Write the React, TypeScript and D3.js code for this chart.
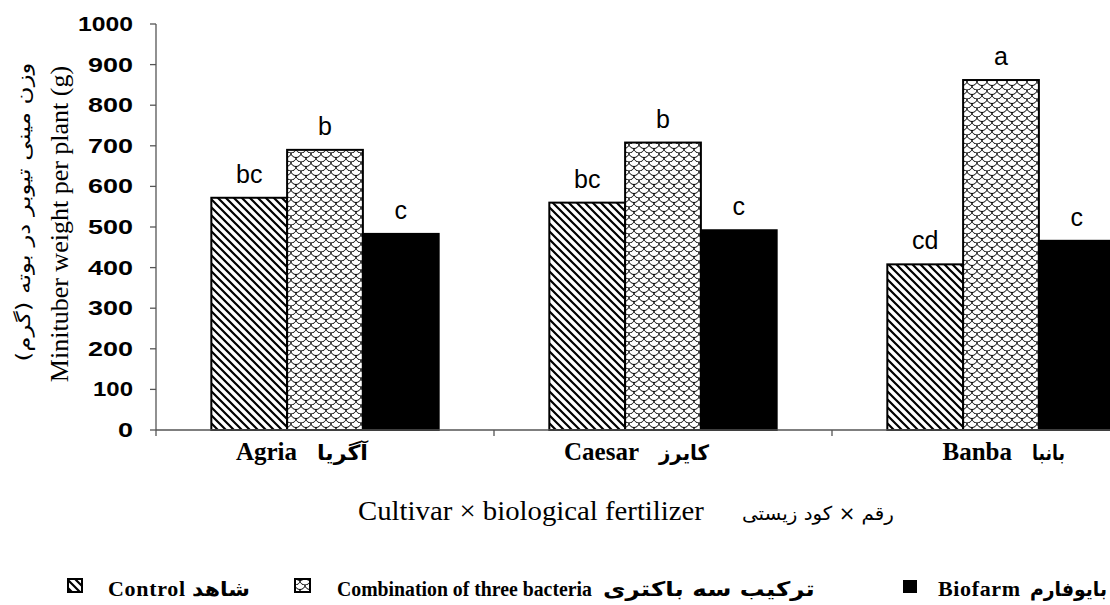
import React, { useLayoutEffect, useRef, useState } from 'react'
import * as d3 from 'd3'

// cultivars on the x axis (latin name, persian name)
const cultivars = ['Agria', 'Caesar', 'Banba']
const cultivarsFa = ['آگریا', 'کایرز', 'بانبا']
// minituber weight per plant (g), one array per treatment
const controlValues = [572, 560, 408]
const bacteriaValues = [690, 708, 862]
const biofarmValues = [483, 492, 466]
// mean comparison letters
const controlLetters = ['bc', 'bc', 'cd']
const bacteriaLetters = ['b', 'b', 'a']
const biofarmLetters = ['c', 'c', 'c']
const yTicks = [0, 100, 200, 300, 400, 500, 600, 700, 800, 900, 1000]

const series = [
  { key: 'control', values: controlValues, letters: controlLetters, fill: 'url(#hatch)' },
  { key: 'bacteria', values: bacteriaValues, letters: bacteriaLetters, fill: 'url(#scales)' },
  { key: 'biofarm', values: biofarmValues, letters: biofarmLetters, fill: '#000' },
]

// text squeezed / stretched horizontally to a given width (keeps arabic letters joined)
function FitText({ x, y, width, rotate = 0, anchor = 'start', children, ...rest }: any) {
  const ref = useRef<SVGTextElement>(null)
  const [sx, setSx] = useState(1)
  useLayoutEffect(() => {
    if (!ref.current) return
    const w = ref.current.getComputedTextLength()
    if (w > 0) setSx(width / w)
  }, [width, children])
  return (
    <g transform={`translate(${x},${y}) rotate(${rotate})`}>
      <text ref={ref} transform={`scale(${sx},1)`} textAnchor={anchor} {...rest}>{children}</text>
    </g>
  )
}

export default function App() {
  const width = 1110
  const height = 605
  const left = 156
  const bottom = 430

  const x = d3.scaleBand<string>().domain(cultivars).range([left, left + 3 * 338])
  const inner = d3.scaleBand<string>()
    .domain(series.map(s => s.key))
    .range([0, x.bandwidth()])
    .paddingOuter(0.73)
  const y = d3.scaleLinear().domain([0, 1000]).range([bottom, 24])

  const serif = "'Liberation Serif', 'DejaVu Serif', serif"
  const sans = "'Liberation Sans', Arial, sans-serif"
  const arabic = "'DejaVu Sans', sans-serif"

  // where the latin / persian halves of each category label meet, relative to band centre
  const labelSplit = [-18, -14, 21]
  const faWidth = [51, 50, 33]

  // tick label widths: reference digits look stretched
  const tickWidth = (t: number) => {
    const s = String(t)
    return s.length * 15 - (s[0] === '1' ? 5 : 0)
  }

  return (
    <svg width={width} height={height} style={{ position: 'absolute', left: 0, top: 0, background: '#fff' }}>
      <defs>
        <pattern id="hatch" patternUnits="userSpaceOnUse" width={8} height={8}>
          <rect width={8} height={8} fill="#fff" />
          <path d="M-2,-2 L10,10 M-2,6 L2,10 M6,-2 L10,2" stroke="#000" strokeWidth={2.2} />
        </pattern>
        <pattern id="scales" patternUnits="userSpaceOnUse" width={10} height={9}>
          <rect width={10} height={9} fill="#fff" />
          <path
            d="M-5,0 A5,4.5 0 0 0 5,0 M5,0 A5,4.5 0 0 0 15,0 M0,4.5 A5,4.5 0 0 0 10,4.5 M-5,9 A5,4.5 0 0 0 5,9 M5,9 A5,4.5 0 0 0 15,9"
            fill="none" stroke="#000" strokeWidth={1} />
        </pattern>
      </defs>

      {/* bars */}
      {cultivars.map((c, i) => (
        <g key={c} transform={`translate(${x(c)},0)`}>
          {series.map(s => (
            <g key={s.key}>
              <rect
                x={inner(s.key)}
                y={y(s.values[i])}
                width={inner.bandwidth()}
                height={bottom - y(s.values[i])}
                fill={s.fill}
                stroke="#000"
                strokeWidth={2}
              />
              <text
                x={inner(s.key)! + inner.bandwidth() / 2}
                y={y(s.values[i]) - 15}
                textAnchor="middle"
                fontFamily={sans}
                fontSize={25}
              >{s.letters[i]}</text>
            </g>
          ))}
        </g>
      ))}

      {/* y axis */}
      <line x1={left} x2={left} y1={bottom + 6} y2={y(1000)} stroke="#555" strokeWidth={1.3} />
      {yTicks.map(t => (
        <g key={t}>
          <line x1={left - 6} x2={left} y1={y(t)} y2={y(t)} stroke="#555" strokeWidth={1.3} />
          <FitText x={133} y={y(t) + 7} width={tickWidth(t)} anchor="end" fontFamily={sans}
            fontWeight="bold" fontSize={20}>{t}</FitText>
        </g>
      ))}

      {/* x axis */}
      <line x1={left} x2={width} y1={bottom} y2={bottom} stroke="#555" strokeWidth={1.3} />
      {cultivars.map((c, i) => {
        const mid = x(c)! + x.bandwidth() / 2 + labelSplit[i]
        return (
          <g key={c}>
            <line x1={x(c)! + x.bandwidth()} x2={x(c)! + x.bandwidth()} y1={bottom} y2={bottom + 6}
              stroke="#555" strokeWidth={1.3} />
            <text x={mid - 10} y={460} textAnchor="end" fontFamily={serif}
              fontWeight="bold" fontSize={25}>{c}</text>
            <FitText x={mid + 10} y={460} width={faWidth[i]} fontFamily={arabic} fontWeight="bold"
              fontSize={21}>{cultivarsFa[i]}</FitText>
          </g>
        )
      })}

      {/* axis titles */}
      <text transform="translate(68,224) rotate(-90)" textAnchor="middle" fontFamily={serif} fontSize={26}>
        Minituber weight per plant (g)
      </text>
      <FitText x={30} y={212} rotate={-90} anchor="middle" width={299} fontFamily={arabic} fontSize={19}>
        وزن مینی تیوبر در بوته (گرم)
      </FitText>
      <FitText x={358} y={520} width={346} fontFamily={serif} fontSize={28}>
        Cultivar × biological fertilizer
      </FitText>
      <FitText x={742} y={520} width={152} fontFamily={arabic} fontSize={19}>
        رقم × کود زیستی
      </FitText>

      {/* legend */}
      <g fontFamily={serif} fontWeight="bold" fontSize={22}>
        <rect x={68} y={579} width={14} height={13} fill="url(#hatch)" stroke="#000" strokeWidth={2} />
        <text x={108} y={596} textLength={77} lengthAdjust="spacing">Control</text>
        <FitText x={192} y={596} width={58} fontFamily={arabic} fontSize={20}>شاهد</FitText>
        <rect x={295} y={579} width={15} height={13} fill="url(#scales)" stroke="#000" strokeWidth={2} />
        <FitText x={337} y={596} width={255}>Combination of three bacteria</FitText>
        <FitText x={603} y={596} width={212} fontFamily={arabic} fontSize={20}>ترکیب سه باکتری</FitText>
        <rect x={903} y={580} width={14} height={13} fill="#000" />
        <text x={938} y={596} textLength={82} lengthAdjust="spacing">Biofarm</text>
        <FitText x={1030} y={596} width={77} fontFamily={arabic} fontSize={20}>بایوفارم</FitText>
      </g>
    </svg>
  )
}
